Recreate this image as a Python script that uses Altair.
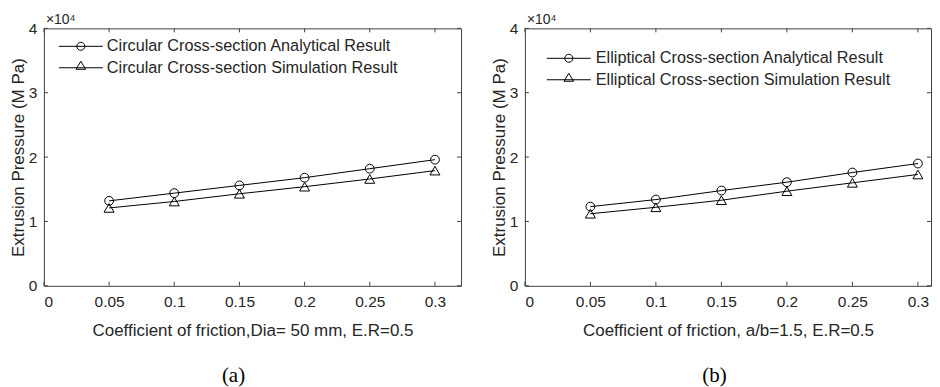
import altair as alt
import pandas as pd

# ---- data ----
friction = [0.05, 0.10, 0.15, 0.20, 0.25, 0.30]
circ_analytical = [13200, 14400, 15600, 16800, 18200, 19600]
circ_simulation = [12100, 13100, 14300, 15400, 16600, 17900]
ellip_analytical = [12300, 13400, 14800, 16100, 17600, 19000]
ellip_simulation = [11200, 12200, 13300, 14700, 16000, 17300]

circ_names = ["Circular Cross-section Analytical Result",
              "Circular Cross-section Simulation Result"]
ellip_names = ["Elliptical Cross-section Analytical Result",
               "Elliptical Cross-section Simulation Result"]
x_titles = ["Coefficient of friction,Dia= 50 mm, E.R=0.5",
            "Coefficient of friction, a/b=1.5, E.R=0.5"]
panel_labels = ["(a)", "(b)"]
y_title = "Extrusion Pressure (M Pa)"
exp_label = "×10⁴"

x_ticks = [0, 0.05, 0.1, 0.15, 0.2, 0.25, 0.3]
y_ticks = [0, 10000, 20000, 30000, 40000]

FONT = "Liberation Sans"
INK = "#262626"
H = 258
LBL = 15.5
TTL = 17

CIRCLE_PATH = "M-2.2,0L2.2,0M-0.4,0A0.4,0.4,0,1,0,0.4,0A0.4,0.4,0,1,0,-0.4,0"
TRI_PATH = "M-2.2,0L2.2,0M-0.48,0.15L0.48,0.15L0,-0.65Z"
LEG_SIZE = 400


def panel(names, s1, s2, xtitle, label, width, xmax, lx, ly, loff):
    df = pd.DataFrame({
        "friction": friction + friction,
        "pressure": s1 + s2,
        "series": [names[0]] * len(friction) + [names[1]] * len(friction),
    })
    xt = pd.DataFrame({"friction": x_ticks})
    yt = pd.DataFrame({"pressure": y_ticks})
    lab = pd.DataFrame({"lab": [label]})

    xscale = alt.Scale(domain=[0, xmax], nice=False, zero=False)
    yscale = alt.Scale(domain=[0, 40000], nice=False)

    x = alt.X("friction:Q", scale=xscale,
              axis=alt.Axis(values=x_ticks, labelExpr="'' + datum.value",
                            title=xtitle, labelFontSize=LBL, titleFontSize=TTL,
                            labelPadding=9, titlePadding=12))
    y = alt.Y("pressure:Q", scale=yscale,
              axis=alt.Axis(values=y_ticks, labelExpr="'' + datum.value / 10000",
                            title=y_title, labelFontSize=LBL, titleFontSize=TTL,
                            labelPadding=7, titlePadding=1))

    lines = alt.Chart(df).mark_line(color="black", strokeWidth=1).encode(
        x=x, y=y, detail="series:N")
    pts = alt.Chart(df).mark_point(filled=False, color="black", strokeWidth=1,
                                   opacity=1).encode(
        x=x, y=y,
        shape=alt.Shape("series:N",
                        scale=alt.Scale(domain=names, range=["circle", "triangle-up"]),
                        legend=None),
        size=alt.Size("series:N",
                      scale=alt.Scale(domain=names, range=[78, 100]),
                      legend=None))
    # legend-only layer: no rows survive the filter, the explicit domain drives the legend
    leg = alt.Chart(df).transform_filter("false").mark_point(
        filled=False, color="black", strokeWidth=1, size=LEG_SIZE, opacity=1).encode(
        x=x, y=y,
        shape=alt.Shape("series:N",
                        scale=alt.Scale(domain=names, range=[CIRCLE_PATH, TRI_PATH]),
                        legend=alt.Legend(
                            title=None, orient="none", legendX=lx, legendY=ly,
                            symbolSize=LEG_SIZE, symbolStrokeWidth=1,
                            symbolStrokeColor="black", symbolFillColor="transparent",
                            labelFont=FONT, labelFontSize=16.3, labelColor=INK,
                            labelOffset=loff, rowPadding=2.5, padding=0,
                            labelLimit=0)))

    tick_col = "#404040"
    left_t = alt.Chart(yt).mark_rule(color=tick_col).encode(
        y=y, x=alt.value(0), x2=alt.value(4))
    right_t = alt.Chart(yt).mark_rule(color=tick_col).encode(
        y=y, x=alt.value(width), x2=alt.value(width - 4))
    bot_t = alt.Chart(xt).mark_rule(color=tick_col).encode(
        x=x, y=alt.value(H), y2=alt.value(H - 4))
    top_t = alt.Chart(xt).mark_rule(color=tick_col).encode(
        x=x, y=alt.value(0), y2=alt.value(4))

    sub = alt.Chart(lab).mark_text(font="Liberation Serif", fontSize=21,
                                   color="black", baseline="middle").encode(
        text="lab:N", x=alt.value(190), y=alt.value(H + 90))

    return alt.layer(lines, pts, leg, left_t, right_t, bot_t, top_t, sub).resolve_scale(
        shape="independent"
    ).properties(
        width=width, height=H,
        title=alt.TitleParams(exp_label, anchor="start", frame="group",
                              fontSize=14, font=FONT, fontWeight="normal",
                              color=INK, offset=-6, dx=2),
    )


left = panel(circ_names, circ_analytical, circ_simulation, x_titles[0],
             panel_labels[0], 418, 0.32, 26.5, 7.5, 15.5)
right = panel(ellip_names, ellip_analytical, ellip_simulation, x_titles[1],
              panel_labels[1], 407, 0.31, 33.5, 19.5, 16.5)

chart = alt.hconcat(left, right, spacing=27).resolve_scale(
    x="independent", y="independent", shape="independent", size="independent"
).properties(
    padding={"left": 0, "top": 4, "right": 0, "bottom": 0},
    background="white",
).configure_view(
    stroke="#404040", strokeWidth=1
).configure_axis(
    ticks=False, domain=False, grid=False,
    labelFont=FONT, labelColor=INK,
    titleFont=FONT, titleFontWeight="normal", titleColor=INK,
)

chart.save("out.html", embed_options={"renderer": "svg", "actions": False})
